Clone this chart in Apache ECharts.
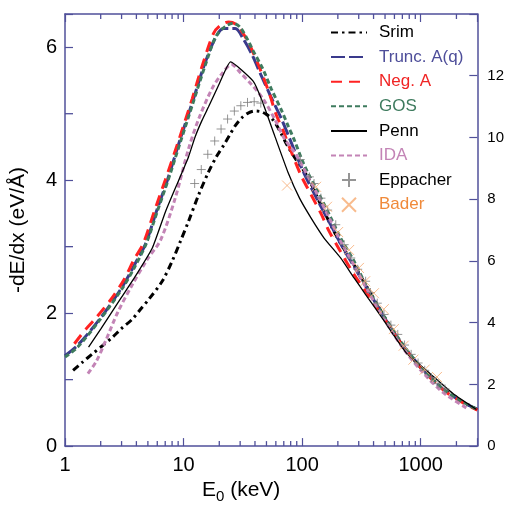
<!DOCTYPE html>
<html><head><meta charset="utf-8">
<script src="https://cdn.jsdelivr.net/npm/echarts@6/dist/echarts.min.js"></script>
<style>html,body{margin:0;padding:0;background:#fff}#c{width:507px;height:509px}</style>
</head><body><div id="c"></div>
<script>
// ---- tick labels ----
const xTickLabels = [1, 10, 100, 1000];
const leftTickLabels = [0, 2, 4, 6];
const rightTickLabels = [0, 2, 4, 6, 8, 10, 12];
const yMinorTicks = [1, 3, 5];
const xMinorTicks = [];
for (const d of xTickLabels) for (let m = 2; m <= 9; m++) { if (d * m < 3000) xMinorTicks.push(d * m); }

// ---- series data: [E0 (keV), -dE/dx (eV/Å)] ----
const srim = [[1.17,1.14],[1.4,1.26],[1.71,1.39],[2.1,1.52],[2.52,1.64],[3.0,1.77],[3.7,1.91],[4.3,2.05],[5.1,2.21],[6.6,2.48],[8.0,2.78],[9.4,3.08],[11,3.38],[13.4,3.78],[16.2,4.12],[19,4.36],[21.7,4.52],[24.5,4.68],[27.3,4.82],[31,4.94],[35,5.01],[40,5.04],[45,5.03],[50,4.99],[56,4.92],[64,4.76],[75,4.52],[88,4.32],[100,4.18],[115,4.0],[131,3.78],[150,3.56],[200,3.12],[275,2.72],[350,2.4],[500,1.93],[700,1.52],[1000,1.18],[1500,0.88],[2000,0.72],[3000,0.55]];
const truncAq = [[1.0,1.36],[1.3,1.53],[2.0,1.93],[3.0,2.38],[4.0,2.78],[4.8,3.05],[5.9,3.53],[7.3,4.0],[9.3,4.6],[12.1,5.22],[14.8,5.71],[18.3,6.12],[21.7,6.28],[27.3,6.28],[32,6.12],[38,5.88],[45,5.58],[55,5.24],[67,4.92],[86,4.45],[104,4.1],[135,3.7],[175,3.32],[218,3.0],[274,2.7],[355,2.36],[487,1.95],[718,1.5],[1050,1.15],[1560,0.85],[2280,0.66],[3000,0.55]];
const negA = [[1.2,1.54],[1.5,1.76],[1.83,1.93],[2.52,2.24],[3.16,2.51],[3.83,2.81],[4.58,3.05],[5.66,3.53],[7.0,4.0],[9.1,4.6],[11.8,5.22],[14.3,5.71],[17.9,6.21],[20.5,6.33],[24,6.38],[28,6.34],[32,6.2],[36,6.04],[44,5.68],[53,5.3],[60,5.0],[70,4.72],[80,4.45],[98,4.07],[119,3.78],[144,3.5],[169,3.23],[204,2.97],[274,2.58],[343,2.33],[487,1.93],[718,1.49],[1050,1.14],[1560,0.84],[2280,0.65],[3000,0.54]];
const gos = [[1.0,1.34],[1.28,1.49],[1.95,1.89],[3.06,2.38],[3.83,2.68],[4.85,3.05],[6.0,3.53],[7.4,4.0],[9.5,4.6],[12.3,5.22],[15.1,5.71],[18.7,6.16],[22.4,6.31],[26.3,6.36],[30,6.3],[35,6.1],[38,5.97],[47,5.66],[55,5.37],[67,5.05],[76,4.82],[86,4.6],[100,4.3],[111,4.12],[135,3.83],[175,3.43],[211,3.13],[274,2.78],[355,2.38],[487,1.96],[718,1.51],[1050,1.15],[1560,0.85],[2280,0.66],[3000,0.55]];
const penn = [[1.58,1.49],[2,1.76],[3,2.24],[4,2.58],[5.45,2.98],[7.05,3.53],[9.1,4.0],[11,4.35],[12.5,4.65],[14.3,4.9],[16.2,5.1],[20,5.45],[24.9,5.78],[38.6,5.49],[45.3,5.22],[58.6,4.67],[75.9,4.12],[95,3.73],[119,3.43],[153,3.13],[211,2.83],[274,2.53],[343,2.28],[488,1.89],[765,1.39],[1200,1.09],[1870,0.79],[2950,0.55]];
const ida = [[1.56,1.09],[1.83,1.27],[2.21,1.59],[2.78,2.01],[3.7,2.43],[4.95,2.81],[6.4,3.1],[8.5,3.73],[11,4.47],[13.4,4.92],[17.3,5.37],[21,5.6],[25.4,5.74],[30,5.62],[37.4,5.44],[47,5.22],[58.6,4.92],[71,4.62],[86,4.42],[100,4.22],[135,3.78],[175,3.38],[211,3.08],[274,2.72],[355,2.35],[487,1.92],[718,1.46],[1050,1.1],[1560,0.8],[2450,0.57]];
const eppacher = [[12.4,3.95],[14.1,4.16],[16.0,4.39],[18.3,4.59],[20.7,4.77],[23.5,4.92],[26.8,5.04],[30.4,5.12],[34.6,5.17],[39.4,5.18],[44.8,5.16],[96.5,4.31],[115,4.05],[126,3.95],[144,3.73],[164,3.55],[192,3.33],[226,3.03],[257,2.83],[294,2.66],[343,2.48],[377,2.31],[430,2.15],[490,1.98],[560,1.82],[640,1.68],[730,1.52],[830,1.38],[950,1.25],[1080,1.14],[1230,1.03],[1400,0.94],[1600,0.86]];
const bader = [[74.6,3.92],[131,3.9],[162,3.6],[201,3.22],[249,2.95],[301,2.68],[340,2.48],[403,2.3],[488,2.06],[593,1.76],[718,1.51],[867,1.3],[1080,1.15],[1370,1.04]];

const AX = '#50509a';
const FONT = 'Liberation Sans, Arial, sans-serif';
const plusPath = 'path://M0,5L10,5M5,0L5,10';
const crossPath = 'path://M0,0L10,10M0,10L10,0';
const Y_MAX = 6.5;

const chart = echarts.init(document.getElementById('c'), null, {renderer: 'canvas'});

function xAxisCfg(pos, labels) {
  return {
    type: 'log', logBase: 10, min: 1, max: 3000, position: pos,
    axisLine: {show: true, onZero: false, lineStyle: {color: AX, width: 1.5}},
    axisTick: {show: true, inside: true, length: 8, lineStyle: {color: AX, width: 1.2}},
    splitLine: {show: false},
    axisLabel: labels ? {
      show: true, fontSize: 20, color: '#000', fontFamily: FONT, margin: 9,
      formatter: v => { const r = Math.round(v); return xTickLabels.includes(r) && Math.abs(v - r) < 1e-6 * r ? String(r) : ''; }
    } : {show: false}
  };
}

const lineItemHidden = {opacity: 0};

// minor-tick marks drawn as small rect symbols placed by the axes' scales
function tickSeries(data, size, offset) {
  return {type: 'scatter', data, symbol: 'rect', symbolSize: size, symbolOffset: offset,
    silent: true, clip: false, z: 20, itemStyle: {color: AX, opacity: 1}};
}

const option = {
  animation: false,
  backgroundColor: '#fff',
  grid: {left: 62, top: 14, right: 29, bottom: 59, containLabel: false},
  xAxis: [
    Object.assign(xAxisCfg('bottom', true), {
      name: '{e|E}{s|0}{e| (keV)}', nameLocation: 'middle', nameGap: 26,
      nameTextStyle: {padding: [0, 60, 0, 0], rich: {
        e: {fontSize: 21, fontFamily: FONT, color: '#000'},
        s: {fontSize: 15, fontFamily: FONT, color: '#000', padding: [12, 0, 0, 0]}
      }}
    }),
    xAxisCfg('top', false)
  ],
  yAxis: [
    {
      type: 'value', min: 0, max: Y_MAX, interval: 2, position: 'left',
      name: '-dE/dx (eV/Å)', nameLocation: 'middle', nameGap: 26,
      nameTextStyle: {fontSize: 21, fontFamily: FONT, color: '#000', padding: [0, 0, 10, 0]},
      axisLine: {show: true, onZero: false, lineStyle: {color: AX, width: 1.5}},
      axisTick: {show: true, inside: true, length: 8, lineStyle: {color: AX, width: 1.2}},
      splitLine: {show: false},
      axisLabel: {fontSize: 20, color: '#000', fontFamily: FONT, margin: 8,
        formatter: v => leftTickLabels.includes(v) ? String(v) : ''}
    },
    {
      type: 'value', min: 0, max: 14, interval: 2, position: 'right',
      axisLine: {show: true, onZero: false, lineStyle: {color: AX, width: 1.5}},
      axisTick: {show: true, inside: true, length: 8, lineStyle: {color: AX, width: 1.2}},
      splitLine: {show: false},
      axisLabel: {fontSize: 15, color: '#000', fontFamily: FONT, margin: 10,
        formatter: v => rightTickLabels.includes(v) ? String(v) : ''}
    }
  ],
  legend: {
    orient: 'vertical', left: 325, top: 19, itemWidth: 36, itemHeight: 14, itemGap: 7.6,
    textStyle: {fontSize: 17, fontFamily: FONT, lineHeight: 17, padding: [0, 0, 0, 7]},
    data: [
      {name: 'Srim', textStyle: {color: '#000'}, itemStyle: lineItemHidden},
      {name: 'Trunc. A(q)', textStyle: {color: '#4e4e9a'}, itemStyle: lineItemHidden},
      {name: 'Neg. A', textStyle: {color: '#f02424'}, itemStyle: lineItemHidden},
      {name: 'GOS', textStyle: {color: '#3e7b5e'}, itemStyle: lineItemHidden},
      {name: 'Penn', textStyle: {color: '#000'}, itemStyle: lineItemHidden},
      {name: 'IDA', textStyle: {color: '#c384b6'}, itemStyle: lineItemHidden},
      {name: 'Eppacher', textStyle: {color: '#000'}},
      {name: 'Bader', textStyle: {color: '#f08a3a'}}
    ]
  },
  series: [
    {name: 'Srim', type: 'line', data: srim, symbol: 'none', smooth: 0.3, z: 3,
      itemStyle: {color: '#000'}, lineStyle: {color: '#000', width: 3, type: [7, 4, 2.5, 4]}},
    {name: 'Trunc. A(q)', type: 'line', data: truncAq, symbol: 'none', smooth: 0.3, z: 4,
      itemStyle: {color: '#3a3a8c'}, lineStyle: {color: '#3a3a8c', width: 3, type: [14, 4]}},
    {name: 'Neg. A', type: 'line', data: negA, symbol: 'none', smooth: 0.3, z: 5,
      itemStyle: {color: '#ff2222'}, lineStyle: {color: '#ff2222', width: 3, type: [11, 7]}},
    {name: 'GOS', type: 'line', data: gos, symbol: 'none', smooth: 0.3, z: 6,
      itemStyle: {color: '#3e7b5e'}, lineStyle: {color: '#3e7b5e', width: 3, type: [5, 3]}},
    {name: 'Penn', type: 'line', data: penn, symbol: 'none', smooth: 0.15, z: 7,
      itemStyle: {color: '#000'}, lineStyle: {color: '#000', width: 1.3, type: 'solid'}},
    {name: 'IDA', type: 'line', data: ida, symbol: 'none', smooth: 0.3, z: 6,
      itemStyle: {color: '#c384b6'}, lineStyle: {color: '#c384b6', width: 3, type: [5, 3]}},
    {name: 'Eppacher', type: 'scatter', data: eppacher, symbol: plusPath, symbolSize: 9, z: 8,
      itemStyle: {color: 'rgba(0,0,0,0)', borderColor: '#7a7a7a', borderWidth: 1}},
    {name: 'Bader', type: 'scatter', data: bader, symbol: crossPath, symbolSize: 10, z: 8,
      itemStyle: {color: 'rgba(0,0,0,0)', borderColor: '#f6aa70', borderWidth: 1}},
    tickSeries(xMinorTicks.map(v => [v, 0]), [1.3, 5], [0, -2.5]),
    tickSeries(xMinorTicks.map(v => [v, Y_MAX]), [1.3, 5], [0, 2.5]),
    tickSeries(yMinorTicks.map(v => [1, v]), [8, 1.3], [4, 0])
  ]
};
chart.setOption(option);
</script>
</body></html>
